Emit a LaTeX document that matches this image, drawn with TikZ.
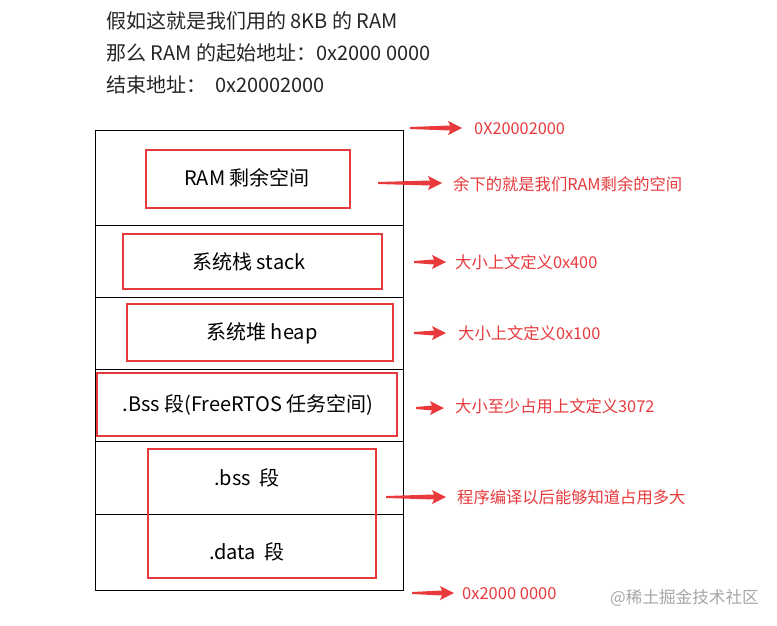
\documentclass[tikz,border=0pt]{standalone}
\usepackage{fontspec}
\setmainfont{Noto Sans CJK SC}
\usetikzlibrary{arrows.meta,calc}
\definecolor{rd}{HTML}{E8393C}
\tikzset{
  redbox/.style={draw=rd,line width=1.8pt},
  lbl/.style={text=rd,font=\fontsize{16.3}{16.3}\selectfont,anchor=west,inner sep=0},
  boxtxt/.style={font=\fontsize{20}{20}\selectfont,inner sep=0},
  hdr/.style={font=\fontsize{20}{20}\selectfont,anchor=west,inner sep=0,text=black!85},
}
\newcommand\redarr[2]{\fill[rd] ($(#1)+(0,-1)$) -- ($(#2)+(-12,-2.5)$) -- ($(#2)+(-14,-7)$) -- (#2) -- ($(#2)+(-14,7)$) -- ($(#2)+(-12,2.5)$) -- ($(#1)+(0,1)$) -- cycle;}
\begin{document}
\begin{tikzpicture}[x=1pt,y=-1pt]
\useasboundingbox (0,0) rectangle (777,626);
\node[hdr] (h1) at (106,21) {假如这就是我们用的 8KB 的 RAM};
\node[hdr] (h2) at (106,53) {那么 RAM 的起始地址：0x2000 0000};
\node[hdr] (h3) at (106,85) {结束地址：\ \ 0x20002000};
\draw[line width=0.8pt] (95,130) rectangle (403,590);
\foreach \y in {225,297,369,441,514} \draw[line width=0.8pt] (95,\y) -- (403,\y);
\draw[redbox] (146,150) rectangle (350,208);
\draw[redbox] (123,234) rectangle (382,289);
\draw[redbox] (127,304) rectangle (393,361);
\draw[redbox] (97,373) rectangle (397,436);
\draw[redbox] (148,449) rectangle (376,578);
\node[boxtxt] (t1) at (247,178) {RAM 剩余空间};
\node[boxtxt] (t2) at (249,262) {系统栈 stack};
\node[boxtxt] (t3) at (262,333) {系统堆 heap};
\node[boxtxt] (t4) at (248,405) {.Bss 段(FreeRTOS 任务空间)};
\node[boxtxt] (t5) at (247,478) {.bss\ \ 段};
\node[boxtxt] (t6) at (247,552) {.data\ \ 段};
\coordinate (a1) at (410,128); \coordinate (b1) at (462,128);
\coordinate (a2) at (378,183); \coordinate (b2) at (442,183);
\coordinate (a3) at (414,262); \coordinate (b3) at (446,262);
\coordinate (a4) at (414,333); \coordinate (b4) at (446,333);
\coordinate (a5) at (416,408); \coordinate (b5) at (444,408);
\coordinate (a6) at (386,497); \coordinate (b6) at (446,497);
\coordinate (a7) at (412,593); \coordinate (b7) at (454,593);
\foreach \i in {1,...,7} {\redarr{a\i}{b\i}}
\node[lbl] (l1) at (474,129) {0X20002000};
\node[lbl] (l2) at (453,184) {余下的就是我们RAM剩余的空间};
\node[lbl] (l3) at (455,262) {大小上文定义0x400};
\node[lbl] (l4) at (458,333) {大小上文定义0x100};
\node[lbl] (l5) at (455,406) {大小至少占用上文定义3072};
\node[lbl] (l6) at (457,497) {程序编译以后能够知道占用多大};
\node[lbl,font=\fontsize{16.5}{16.5}\selectfont] (l7) at (462,594) {0x2000 0000};
\node[anchor=west,inner sep=0,text=black!35,font=\fontsize{16.6}{16.6}\selectfont] (wm) at (610,598) {@稀土掘金技术社区};
\end{tikzpicture}
\end{document}
